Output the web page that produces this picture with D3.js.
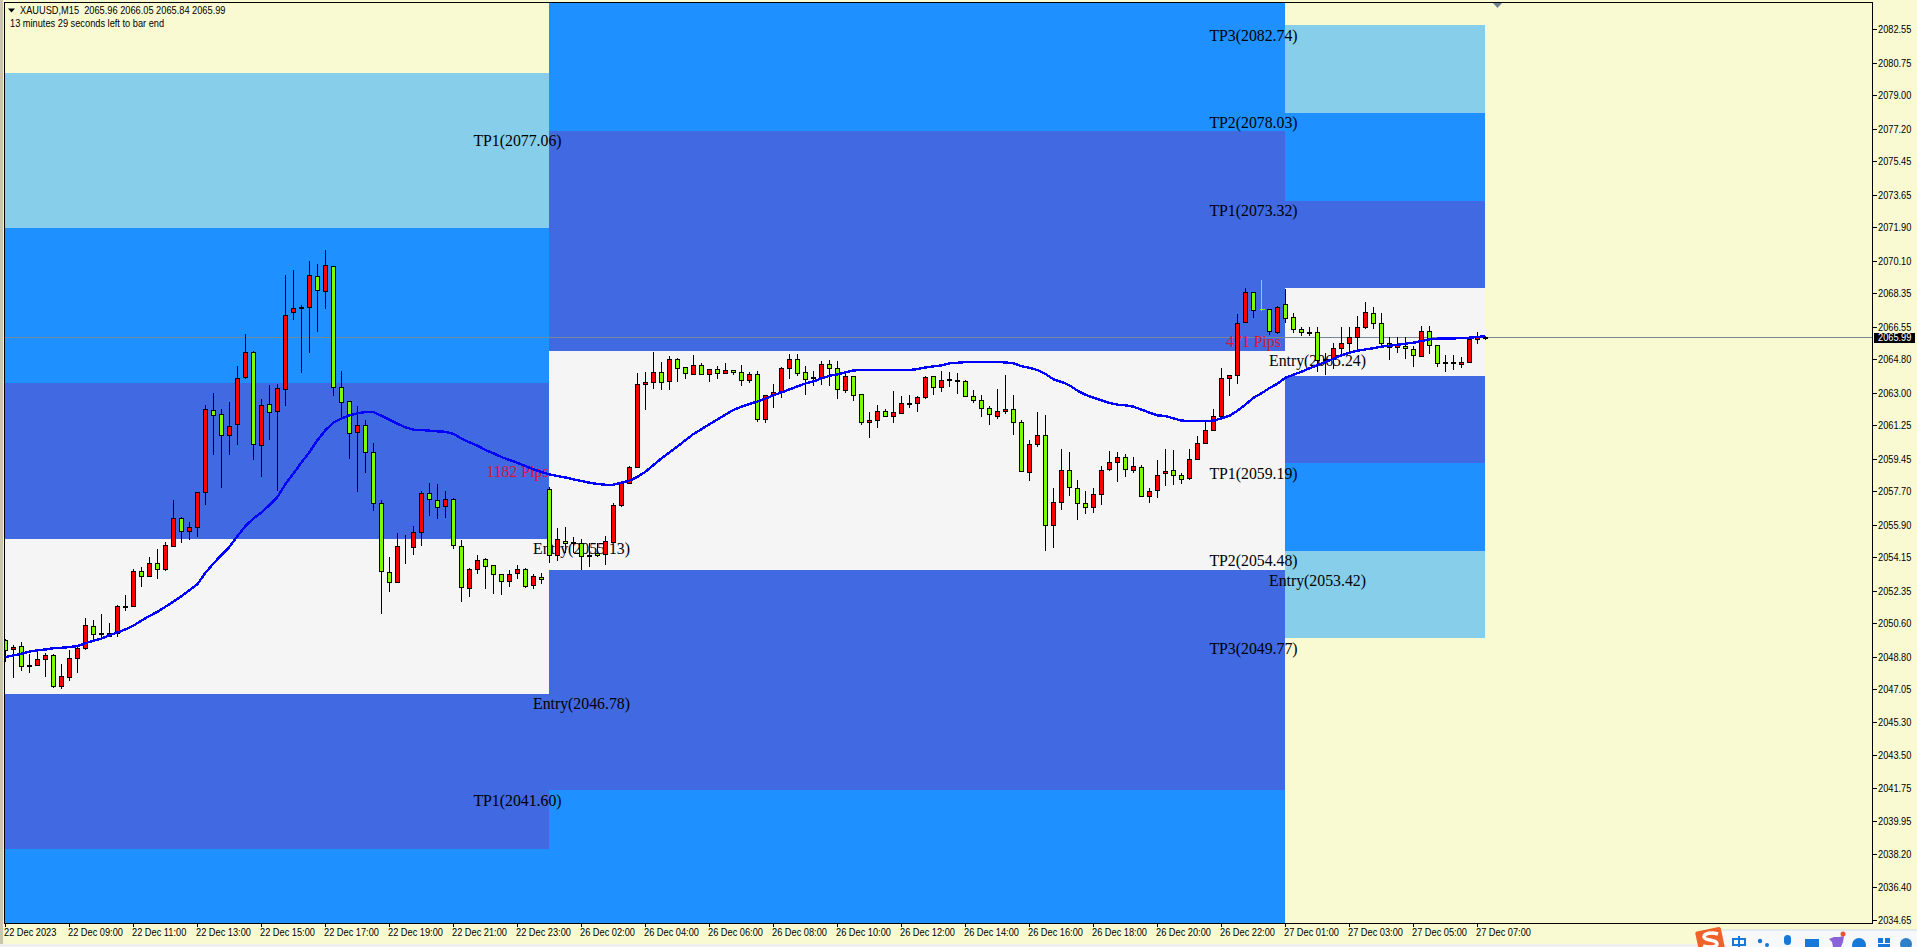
<!DOCTYPE html>
<html>
<head>
<meta charset="utf-8">
<title>XAUUSD,M15</title>
<script src="https://cdn.jsdelivr.net/npm/d3@7"></script>
<style>
  html, body { margin: 0; padding: 0; background: #fafad2; overflow: hidden; }
  svg { display: block; }
  .sans { font-family: "Liberation Sans", Arial, sans-serif; font-size: 10.5px; fill: #000; }
  .serif { font-family: "Liberation Serif", "Times New Roman", serif; font-size: 15.8px; }
</style>
</head>
<body>
<svg id="chart" width="1917" height="947"></svg>
<script>
// bars, M15
var opens = [2049.72,2049.20,2049.38,2048.36,2048.34,2048.68,2048.90,2047.23,2047.70,2048.74,2049.28,2050.46,2050.08,2049.94,2050.08,2051.54,2051.54,2053.42,2053.15,2053.85,2053.51,2054.76,2056.27,2055.57,2055.78,
  2057.67,2062.08,2061.86,2060.74,2061.33,2063.84,2065.20,2060.20,2062.40,2062.03,2063.21,2067.35,2067.62,2067.62,2069.29,2068.48,2069.83,2063.32,2062.56,2060.90,2061.27,2059.82,2057.08,2053.37,2052.83,
  2054.72,2054.71,2055.52,2057.62,2057.24,2056.92,2057.29,2054.76,2052.51,2053.53,2054.08,2053.74,2053.26,2052.88,2053.31,2053.53,2052.65,2053.10,2057.83,2054.28,2055.03,2054.98,2054.92,2054.28,2054.39,
  2054.33,2054.98,2056.97,2058.15,2059.01,2063.48,2063.58,2064.12,2063.64,2064.82,2064.39,2064.02,2064.50,2064.02,2064.28,2064.07,2064.23,2064.12,2063.69,2064.02,2061.59,2062.89,2063.05,2064.34,2064.82,
  2064.12,2063.85,2063.78,2064.55,2064.34,2063.15,2063.91,2062.94,2061.43,2061.54,2062.03,2061.76,2061.92,2062.46,2062.46,2062.78,2063.91,2063.32,2063.75,2063.69,2063.64,2062.83,2062.62,2062.19,2061.76,
  2062.03,2062.13,2061.43,2058.74,2060.25,2060.73,2055.89,2057.13,2058.85,2057.89,2057.08,2056.86,2057.56,2058.91,2059.28,2059.55,2058.85,2059.02,2057.46,2057.78,2058.69,2058.85,2058.59,2058.42,2059.45,
  2060.31,2061.01,2061.76,2063.80,2063.96,2066.81,2068.43,2067.48,2067.51,2066.28,2067.78,2067.08,2066.44,2066.28,2066.28,2064.82,2064.84,2065.42,2065.69,2066.01,2066.55,2067.30,2066.76,2065.69,2065.47,
  2065.52,2065.36,2064.97,2066.33,2065.58,2064.66,2064.66,2064.54,2064.66,2065.90,2065.96];
var highs = [2049.76,2049.46,2049.62,2048.97,2049.15,2049.01,2048.97,2048.43,2049.19,2049.37,2050.91,2050.80,2051.12,2050.62,2051.61,2052.15,2053.54,2053.65,2054.19,2054.62,2054.98,2057.26,2056.32,2056.05,2057.67,
  2062.37,2063.01,2062.15,2062.53,2064.46,2066.19,2065.25,2062.69,2063.44,2063.50,2069.36,2069.61,2067.75,2070.11,2069.95,2070.70,2069.83,2064.20,2062.56,2062.31,2061.56,2060.30,2057.26,2054.19,2055.48,
  2055.37,2055.86,2057.72,2058.17,2058.12,2057.74,2057.36,2055.11,2053.58,2054.30,2054.14,2053.74,2053.30,2053.49,2053.76,2053.58,2053.26,2053.36,2057.94,2055.75,2055.80,2055.27,2055.14,2054.92,2054.92,
  2055.32,2057.08,2058.21,2059.08,2064.09,2064.14,2065.22,2064.68,2065.00,2064.88,2064.39,2065.06,2064.62,2064.28,2064.45,2064.62,2064.23,2064.52,2064.12,2064.18,2062.89,2063.50,2064.39,2065.11,2065.11,
  2064.46,2064.19,2064.71,2064.77,2064.71,2064.07,2063.91,2062.94,2061.99,2062.37,2062.13,2063.12,2062.85,2062.90,2062.85,2063.91,2063.91,2064.19,2064.14,2064.09,2063.69,2063.17,2062.90,2062.31,2063.23,
  2063.98,2062.90,2061.56,2060.47,2061.99,2061.83,2057.90,2060.00,2059.84,2058.33,2057.74,2057.89,2059.09,2059.89,2059.84,2059.73,2059.57,2059.14,2057.89,2059.41,2060.00,2059.95,2058.71,2060.00,2060.70,
  2061.49,2062.14,2064.36,2063.96,2067.26,2068.64,2068.43,2069.09,2067.51,2067.67,2068.61,2067.30,2066.55,2066.55,2066.55,2065.15,2065.69,2066.55,2066.55,2067.16,2067.89,2067.62,2067.30,2066.01,2066.01,
  2066.01,2065.52,2066.60,2066.60,2065.58,2065.06,2065.06,2064.93,2065.95,2066.28,2066.05];
var lows = [2048.56,2047.70,2048.08,2047.97,2048.34,2047.75,2047.16,2047.11,2047.54,2047.97,2049.20,2049.76,2049.72,2049.90,2049.90,2051.30,2051.52,2052.59,2053.13,2053.02,2053.45,2054.74,2054.96,2055.12,2055.28,
  2056.99,2059.70,2057.92,2059.70,2060.23,2063.78,2059.43,2058.51,2060.50,2057.76,2062.33,2066.96,2064.11,2065.18,2066.31,2067.55,2062.87,2061.70,2059.48,2057.70,2058.73,2056.68,2051.14,2052.33,2052.77,
  2053.83,2054.32,2054.80,2056.41,2056.25,2056.31,2054.64,2051.79,2052.06,2053.29,2052.49,2052.22,2052.16,2052.59,2052.99,2052.50,2052.49,2052.76,2053.85,2053.99,2054.39,2054.39,2053.51,2053.67,2054.21,
  2053.78,2054.92,2056.86,2058.12,2059.01,2062.10,2063.23,2063.17,2063.17,2063.60,2063.76,2064.02,2063.96,2063.60,2063.76,2064.03,2063.98,2063.39,2063.57,2061.47,2061.42,2062.20,2062.74,2063.76,2063.93,
  2062.90,2063.41,2063.44,2063.41,2062.69,2063.01,2062.58,2061.29,2060.61,2061.13,2061.70,2061.40,2061.88,2062.20,2061.99,2062.69,2062.90,2063.07,2063.33,2062.96,2062.80,2062.47,2061.72,2061.29,2061.61,
  2061.88,2060.75,2058.76,2058.28,2060.11,2054.51,2054.67,2056.72,2057.47,2056.18,2056.51,2056.54,2056.99,2058.84,2058.23,2058.51,2058.73,2057.44,2057.11,2057.38,2058.01,2058.08,2058.14,2058.35,2059.41,
  2060.25,2060.95,2061.70,2062.85,2063.50,2066.79,2067.05,2067.41,2066.13,2066.17,2066.76,2066.22,2066.10,2066.10,2064.13,2064.00,2064.30,2064.93,2065.15,2065.38,2066.44,2066.44,2065.58,2064.79,2065.15,
  2064.86,2064.43,2064.93,2065.11,2064.43,2064.16,2064.25,2064.34,2064.61,2065.63,2065.84];
var closes = [2049.15,2049.35,2048.31,2048.31,2048.68,2048.90,2047.23,2047.77,2048.74,2049.28,2050.51,2050.01,2050.01,2050.08,2051.54,2051.46,2053.42,2053.15,2053.85,2053.53,2054.82,2056.27,2055.57,2055.78,2057.67,
  2062.13,2061.81,2060.74,2061.22,2063.80,2065.20,2060.25,2062.35,2061.97,2063.26,2067.19,2067.57,2067.55,2069.34,2068.53,2069.88,2063.32,2062.51,2060.84,2061.27,2059.82,2057.08,2053.42,2052.83,2054.76,
  2054.71,2055.52,2057.62,2057.29,2056.86,2057.29,2054.82,2052.56,2053.53,2054.01,2053.67,2053.26,2052.88,2053.26,2053.53,2052.61,2053.15,2052.99,2054.28,2055.14,2054.92,2054.92,2054.23,2054.23,2054.28,
  2055.03,2056.97,2058.15,2059.01,2063.48,2063.58,2064.12,2063.58,2064.82,2064.34,2064.07,2064.50,2064.02,2064.28,2064.07,2064.23,2064.12,2063.69,2064.02,2061.59,2062.89,2063.05,2064.34,2064.82,2064.07,
  2063.75,2063.78,2064.55,2064.34,2063.21,2063.91,2062.89,2061.43,2061.54,2062.03,2061.76,2061.97,2062.46,2062.38,2062.78,2063.85,2063.32,2063.69,2063.67,2063.62,2062.83,2062.62,2062.19,2061.86,2062.03,
  2062.13,2061.43,2058.80,2060.25,2060.73,2055.89,2057.13,2058.85,2057.94,2057.08,2056.86,2057.56,2058.85,2059.28,2059.55,2058.91,2059.07,2057.46,2057.72,2058.59,2058.80,2058.59,2058.37,2059.45,2060.31,
  2061.01,2061.76,2063.80,2063.96,2066.76,2068.43,2067.46,2067.48,2066.33,2067.62,2067.03,2066.44,2066.28,2066.22,2064.77,2064.77,2065.42,2065.69,2066.01,2066.55,2067.35,2066.76,2065.69,2065.47,2065.63,
  2065.42,2065.04,2066.33,2065.58,2064.61,2064.61,2064.61,2064.66,2065.90,2066.01,2065.99];
var thinGreenBars = [157];

// moving average, one value per bar
var ma = [2048.81,2048.90,2048.99,2049.11,2049.17,2049.22,2049.29,2049.31,2049.35,2049.40,2049.56,2049.69,2049.81,2049.98,2050.14,2050.30,2050.50,2050.78,2051.02,2051.25,2051.52,2051.80,2052.09,2052.41,2052.74,
  2053.35,2053.85,2054.30,2054.74,2055.32,2055.86,2056.27,2056.59,2056.99,2057.43,2058.12,2058.69,2059.28,2059.84,2060.48,2061.02,2061.42,2061.65,2061.81,2061.92,2061.99,2061.99,2061.79,2061.58,2061.36,
  2061.17,2061.04,2061.02,2060.99,2060.95,2060.93,2060.81,2060.57,2060.36,2060.18,2059.95,2059.77,2059.57,2059.41,2059.26,2059.08,2058.91,2058.76,2058.64,2058.55,2058.47,2058.37,2058.28,2058.19,2058.12,
  2058.08,2058.08,2058.19,2058.30,2058.51,2058.78,2059.14,2059.50,2059.82,2060.14,2060.48,2060.81,2061.07,2061.34,2061.59,2061.86,2062.10,2062.28,2062.42,2062.56,2062.72,2062.89,2063.05,2063.21,2063.37,
  2063.53,2063.64,2063.80,2063.94,2064.02,2064.12,2064.23,2064.25,2064.25,2064.25,2064.25,2064.25,2064.25,2064.25,2064.30,2064.39,2064.45,2064.50,2064.61,2064.64,2064.68,2064.68,2064.68,2064.68,2064.68,
  2064.66,2064.61,2064.46,2064.37,2064.25,2064.04,2063.75,2063.61,2063.43,2063.14,2062.92,2062.76,2062.62,2062.48,2062.39,2062.35,2062.28,2062.12,2061.96,2061.81,2061.78,2061.65,2061.53,2061.51,2061.51,
  2061.51,2061.53,2061.65,2061.79,2062.06,2062.39,2062.76,2063.00,2063.28,2063.52,2063.84,2064.00,2064.16,2064.34,2064.52,2064.68,2064.86,2065.04,2065.18,2065.29,2065.36,2065.42,2065.51,2065.56,2065.61,
  2065.67,2065.72,2065.81,2065.90,2065.94,2065.95,2065.95,2065.97,2065.99,2066.03,2066.08];

// zones, price levels top to bottom and the bars they span
var zoneLeftLevels = [2080.18,2071.83,2063.48,2055.13,2046.78,2038.43,2030.08];
var zoneLeftColors = ["#87ceeb","#1e90ff","#4169e1","#f5f5f5","#4169e1","#1e90ff"];
var zoneMidLevels = [2088.88,2077.06,2065.24,2053.42,2041.60,2029.78];
var zoneMidColors = ["#1e90ff","#4169e1","#f5f5f5","#4169e1","#1e90ff"];
var zoneRightLevels = [2082.74,2078.03,2073.32,2068.61,2063.90,2059.19,2054.48,2049.77];
var zoneRightColors = ["#87ceeb","#1e90ff","#4169e1","#f5f5f5","#4169e1","#1e90ff","#87ceeb"];
var zoneBars = [[-1,68],[68,160],[160,185]];

// text objects on the chart
var tagNames = ["TP1","Entry","Entry","TP1","TP3","TP2","TP1","Entry","TP1","TP2","Entry","TP3"];
var tagPrices = [2077.06,2055.13,2046.78,2041.60,2082.74,2078.03,2073.32,2065.24,2059.19,2054.48,2053.42,2049.77];
var tagBars = [64,72,72,64,156,156,156,164,156,156,164,156];
var pipTexts = ["1182 Pips","471 Pips"];
var pipPrices = [2059.29,2066.28];
var pipBars = [64,156];

var priceTicks = [2082.55,2080.75,2079.00,2077.20,2075.45,2073.65,2071.90,2070.10,2068.35,2066.55,2064.80,2063.00,2061.25,2059.45,2057.70,2055.90,2054.15,2052.35,2050.60,2048.80,2047.05,2045.30,2043.50,2041.75,2039.95,2038.20,2036.40,2034.65];
var timeLabels = ["22 Dec 2023","22 Dec 09:00","22 Dec 11:00","22 Dec 13:00","22 Dec 15:00","22 Dec 17:00","22 Dec 19:00","22 Dec 21:00","22 Dec 23:00","26 Dec 02:00","26 Dec 04:00","26 Dec 06:00","26 Dec 08:00","26 Dec 10:00","26 Dec 12:00","26 Dec 14:00","26 Dec 16:00","26 Dec 18:00","26 Dec 20:00","26 Dec 22:00","27 Dec 01:00","27 Dec 03:00","27 Dec 05:00","27 Dec 07:00"];
var barsPerLabel = 8;
var lastPrice = 2065.99;
var headerText = "XAUUSD,M15  2065.96 2066.05 2065.84 2065.99";
var countdownText = "13 minutes 29 seconds left to bar end";

var left = 4.5, right = 1872.5, top_ = 2.5, bottom = 923.5;

var svg = d3.select("#chart");
svg.attr("shape-rendering", "crispEdges");

var x = d3.scaleLinear().domain([0, opens.length - 1]).range([5.5, 1485.5]);
var y = d3.scaleLinear().domain([2084.02, 2034.48]).range([top_, bottom]);

function snap(v) { return Math.floor(y(v)) + 0.5; }

svg.append("rect").attr("width", 1917).attr("height", 947).attr("fill", "#fafad2");
// window edge on the left
svg.append("rect").attr("x", 0).attr("y", 0).attr("width", 3).attr("height", 944).attr("fill", "#c9c6ac");
svg.append("rect").attr("x", 3).attr("y", 0).attr("width", 1).attr("height", 944).attr("fill", "#f4f4ea");
svg.append("rect").attr("x", 0).attr("y", 944).attr("width", 1917).attr("height", 3).attr("fill", "#f0f0f0");

svg.append("clipPath").attr("id", "plot").append("rect")
  .attr("x", left).attr("y", top_).attr("width", right - left).attr("height", bottom - top_);

var plot = svg.append("g").attr("clip-path", "url(#plot)");

function drawZone(levels, colors, span) {
  var zx = Math.max(x(span[0]) - 0.5, left);
  plot.append("g").selectAll("rect")
    .data(colors)
    .enter()
    .append("rect")
    .attr("x", zx)
    .attr("width", x(span[1]) - 0.5 - zx)
    .attr("y", function(d, i) { return Math.floor(y(levels[i]) - 0.4); })
    .attr("height", function(d, i) { return Math.floor(y(levels[i + 1]) - 0.4) - Math.floor(y(levels[i]) - 0.4); })
    .attr("fill", function(d) { return d; });
}
drawZone(zoneLeftLevels, zoneLeftColors, zoneBars[0]);
drawZone(zoneMidLevels, zoneMidColors, zoneBars[1]);
drawZone(zoneRightLevels, zoneRightColors, zoneBars[2]);

// last price line
plot.append("line")
  .attr("x1", left).attr("x2", right)
  .attr("y1", snap(lastPrice)).attr("y2", snap(lastPrice))
  .attr("stroke", "#778899");

// chart texts go under the candles
plot.append("g").selectAll("text")
  .data(tagNames)
  .enter()
  .append("text")
  .attr("class", "serif")
  .attr("text-anchor", "middle")
  .attr("x", function(d, i) { return x(tagBars[i]); })
  .attr("y", function(d, i) { return y(tagPrices[i]) + 14.5; })
  .attr("fill", "#000")
  .text(function(d, i) { return d + "(" + tagPrices[i].toFixed(2) + ")"; });

plot.append("g").selectAll("text")
  .data(pipTexts)
  .enter()
  .append("text")
  .attr("class", "serif")
  .attr("text-anchor", "middle")
  .attr("x", function(d, i) { return x(pipBars[i]); })
  .attr("y", function(d, i) { return y(pipPrices[i]) + 14.5; })
  .attr("fill", "#dc143c")
  .text(function(d) { return d; });

// candles
var bars = plot.append("g").selectAll("g")
  .data(opens)
  .enter()
  .append("g");

bars.append("line")
  .attr("x1", function(d, i) { return x(i); })
  .attr("x2", function(d, i) { return x(i); })
  .attr("y1", function(d, i) { return y(highs[i]); })
  .attr("y2", function(d, i) { return y(lows[i]); })
  .attr("stroke", function(d, i) { return thinGreenBars.includes(i) ? "#7cfc00" : "#000"; });

bars.each(function(d, i) {
  var g = d3.select(this);
  var cx = x(i);
  var top = snap(Math.max(opens[i], closes[i]));
  var bot = snap(Math.min(opens[i], closes[i]));
  if (thinGreenBars.includes(i)) {
    g.append("line").attr("x1", cx - 2).attr("x2", cx + 3).attr("y1", top).attr("y2", top).attr("stroke", "#7cfc00");
    return;
  }
  g.append("rect")
    .attr("x", cx - 2).attr("y", top)
    .attr("width", 4).attr("height", bot - top)
    .attr("fill", closes[i] >= opens[i] ? "#ff0000" : "#7cfc00")
    .attr("stroke", "#000");
});

// moving average
var maLine = d3.line()
  .x(function(d, i) { return x(i); })
  .y(function(d) { return y(d); });

plot.append("path")
  .attr("d", maLine(ma))
  .attr("fill", "none")
  .attr("stroke", "#0000ff")
  .attr("stroke-width", 2.4);

// frame
svg.append("path")
  .attr("d", "M" + left + "," + bottom + "V" + top_ + "H" + right + "V" + bottom + "H" + left)
  .attr("fill", "none")
  .attr("stroke", "#000");

// price axis
var yAxis = svg.append("g");
yAxis.selectAll("line")
  .data(priceTicks)
  .enter()
  .append("line")
  .attr("x1", right).attr("x2", right + 4)
  .attr("y1", function(d) { return snap(d); })
  .attr("y2", function(d) { return snap(d); })
  .attr("stroke", "#000");
yAxis.selectAll("text")
  .data(priceTicks)
  .enter()
  .append("text")
  .attr("class", "sans")
  .attr("x", 1878)
  .attr("y", function(d) { return y(d) + 3.6; })
  .text(function(d) { return d.toFixed(2); });

svg.append("rect")
  .attr("x", 1874).attr("y", snap(lastPrice) - 5)
  .attr("width", 41).attr("height", 10).attr("fill", "#000");
svg.append("text")
  .attr("class", "sans")
  .attr("x", 1878).attr("y", y(lastPrice) + 3.6)
  .style("fill", "#fff")
  .text(lastPrice.toFixed(2));

// time axis
var xAxis = svg.append("g");
xAxis.selectAll("line")
  .data(timeLabels)
  .enter()
  .append("line")
  .attr("x1", function(d, i) { return x(i * barsPerLabel); })
  .attr("x2", function(d, i) { return x(i * barsPerLabel); })
  .attr("y1", bottom).attr("y2", bottom + 3)
  .attr("stroke", "#000");
xAxis.selectAll("text")
  .data(timeLabels)
  .enter()
  .append("text")
  .attr("class", "sans")
  .attr("x", function(d, i) { return x(i * barsPerLabel) - 1.5; })
  .attr("y", 936)
  .text(function(d) { return d; });

// top-left info
svg.append("path").attr("d", "M8,8.5h7l-3.5,4z").attr("fill", "#000").attr("shape-rendering", "auto");
svg.append("text").attr("class", "sans").attr("x", 20).attr("y", 14).attr("xml:space", "preserve").text(headerText);
svg.append("text").attr("class", "sans").attr("x", 10).attr("y", 27).text(countdownText);

// tahoma-like: tall glyphs on a narrow advance
svg.selectAll("text.sans").each(function() {
  var w = this.getComputedTextLength();
  d3.select(this).attr("textLength", w * 0.88).attr("lengthAdjust", "spacingAndGlyphs");
});

// shift marker on top frame
svg.append("path").attr("d", "M1493,3h9l-4.5,5z").attr("fill", "#708090").attr("shape-rendering", "auto");

// tray icons along the bottom edge of the screenshot
var tray = svg.append("g").attr("shape-rendering", "auto");
tray.append("rect").attr("x", 1722).attr("y", 930).attr("width", 195).attr("height", 17).attr("fill", "#f7f8fa");
tray.append("rect").attr("x", 1722).attr("y", 929.5).attr("width", 195).attr("height", 1).attr("fill", "#cfdcec");
tray.append("rect").attr("x", 1697).attr("y", 929).attr("width", 26).attr("height", 24).attr("rx", 2)
  .attr("fill", "#f0622a").attr("transform", "rotate(-12 1710 940)");
tray.append("path").attr("d", "M1718,934c-6,-2 -14,-1 -14,3c0,4 13,2 13,7c0,3 -8,4 -14,2")
  .attr("fill", "none").attr("stroke", "#fff").attr("stroke-width", 3.5);
// zhong glyph
tray.append("rect").attr("x", 1733).attr("y", 939).attr("width", 12).attr("height", 6).attr("fill", "none").attr("stroke", "#1678d8").attr("stroke-width", 2);
tray.append("rect").attr("x", 1738).attr("y", 936).attr("width", 2).attr("height", 11).attr("fill", "#1678d8");
tray.append("circle").attr("cx", 1760).attr("cy", 941).attr("r", 2.2).attr("fill", "#1678d8");
tray.append("circle").attr("cx", 1767).attr("cy", 945).attr("r", 2).attr("fill", "#1678d8");
tray.append("rect").attr("x", 1784).attr("y", 935).attr("width", 7).attr("height", 10).attr("rx", 3.5).attr("fill", "#1678d8");
tray.append("rect").attr("x", 1805).attr("y", 939).attr("width", 14).attr("height", 8).attr("fill", "#1678d8");
tray.append("path").attr("d", "M1829,939l5,-2h5l5,-1l-1,6l-2,5h-8l-1,-5z").attr("fill", "#8a63d8");
tray.append("circle").attr("cx", 1843).attr("cy", 934).attr("r", 2.5).attr("fill", "#f0503a");
tray.append("circle").attr("cx", 1859).attr("cy", 945).attr("r", 7).attr("fill", "#1678d8");
tray.append("rect").attr("x", 1878).attr("y", 938).attr("width", 5).attr("height", 5).attr("fill", "#1678d8");
tray.append("rect").attr("x", 1885).attr("y", 938).attr("width", 5).attr("height", 5).attr("fill", "#1678d8");
tray.append("rect").attr("x", 1878).attr("y", 944).attr("width", 12).attr("height", 3).attr("fill", "#1678d8");
tray.append("circle").attr("cx", 1906).attr("cy", 944).attr("r", 6).attr("fill", "#2f80c8");
</script>
</body>
</html>
